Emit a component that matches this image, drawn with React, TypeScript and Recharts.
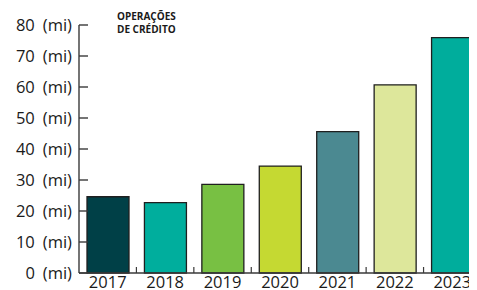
import { BarChart, Bar, Cell, XAxis, YAxis } from 'recharts';

const years = ['2017', '2018', '2019', '2020', '2021', '2022', '2023'];
const credito = [24.6, 22.7, 28.6, 34.5, 45.6, 60.7, 75.9];
const barColors = ['#004047', '#00ae9d', '#78c043', '#c5d932', '#4b8991', '#dde79b', '#00ad9c'];
const yTicks = [0, 10, 20, 30, 40, 50, 60, 70, 80];

const data = years.map((year, i) => ({ year, value: credito[i] }));

const FONT = '"Open Sans", sans-serif';
const AXIS = '#3a3a3a';

// y labels sit left of the axis; tick marks point into the plot
function YTick({ x, y, payload }: any) {
  return (
    <g>
      <text x={x} y={y} dy={5.8} textAnchor="end" fontFamily={FONT} fontSize={16.5} fill="#1a1a1a">
        <tspan>{payload.value}</tspan>
        <tspan dx={8}>(mi)</tspan>
      </text>
      <line x1={x + 7} x2={x + 16} y1={y} y2={y} stroke={AXIS} strokeWidth={1.4} />
    </g>
  );
}

// year labels under the bars, tick marks on the category boundaries
function XTick({ x, y, payload, index }: any) {
  return (
    <g>
      <text x={x} y={y} dy={15.3} textAnchor="middle" fontFamily={FONT} fontSize={16.5} fill="#1a1a1a">
        {payload.value}
      </text>
      {index < years.length - 1 && (
        <line x1={x + 28.7} x2={x + 28.7} y1={y} y2={y - 6} stroke={AXIS} strokeWidth={1.2} />
      )}
    </g>
  );
}

export default function App() {
  return (
    <div style={{ margin: '-8px 0 0 -8px', width: 485, height: 290 }}>
      <BarChart
        width={485}
        height={290}
        data={data}
        margin={{ top: 25, right: 4, left: 0, bottom: 0 }}
        barCategoryGap={0}
      >
        <XAxis
          dataKey="year"
          height={17}
          tick={<XTick />}
          tickLine={false}
          tickSize={0}
          tickMargin={0}
          axisLine={{ stroke: AXIS, strokeWidth: 1.4 }}
          interval={0}
        />
        <YAxis
          width={79}
          domain={[0, 80]}
          ticks={yTicks}
          interval={0}
          tick={<YTick />}
          tickLine={false}
          tickSize={0}
          tickMargin={7}
          axisLine={{ stroke: AXIS, strokeWidth: 1.4 }}
        />
        <Bar dataKey="value" barSize={42} stroke="#1f1f1f" strokeWidth={1.3} isAnimationActive={false}>
          {data.map((d, i) => (
            <Cell key={d.year} fill={barColors[i]} />
          ))}
        </Bar>
        <text x={117} y={20} fontFamily={FONT} fontSize={10} fontWeight={700} fill="#1a1a1a">
          OPERAÇÕES
        </text>
        <text x={117} y={33} fontFamily={FONT} fontSize={10} fontWeight={700} fill="#1a1a1a">
          DE CRÉDITO
        </text>
      </BarChart>
    </div>
  );
}
